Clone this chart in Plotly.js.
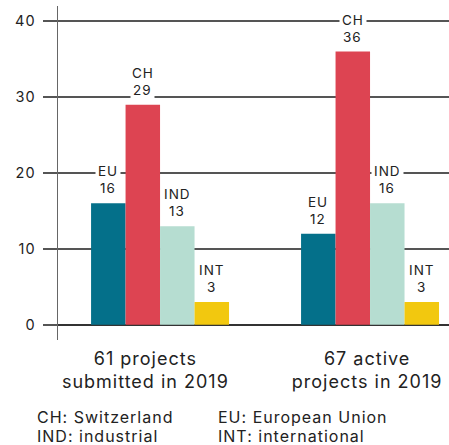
<!DOCTYPE html>
<html>
<head>
<meta charset="utf-8">
<script src="https://cdn.plot.ly/plotly-3.0.1.min.js"></script>
<style>
html,body{margin:0;padding:0;background:#fff;}
#chart{width:449px;height:445px;}
svg text{letter-spacing:1px;}
</style>
</head>
<body>
<div id="chart"></div>
<script>
const groups = ["61 projects<br>submitted in 2019", "67 active<br>projects in 2019"];
const seriesNames = ["EU", "CH", "IND", "INT"];
const euValues = [16, 12];
const chValues = [29, 36];
const indValues = [13, 16];
const intValues = [3, 3];
const yTicks = [0, 10, 20, 30, 40];
const legendLeft = ["CH: Switzerland", "IND: industrial"];
const legendRight = ["EU: European Union", "INT: international"];

const colors = ["#04708A", "#DD4452", "#B6DDD1", "#F2C80F"];
const labelShift = [-0.07, -0.014];
const allValues = [euValues, chValues, indValues, intValues];
const gx = groups.map((g, i) => i);
const bargap = 0.343;
const bw = (1 - bargap) / 4;
const font = "Inter, 'Open Sans', sans-serif";
const txt = "#222";

const traces = seriesNames.map((name, s) => ({
  type: "bar", name: name, x: gx, y: allValues[s],
  marker: {color: colors[s], line: {width: 0}}, hoverinfo: "none"
}));

const annotations = [];
seriesNames.forEach((name, s) => {
  allValues[s].forEach((v, g) => {
    const common = {
      x: g + (s - 1.5) * bw, y: v, xref: "x", yref: "y",
      showarrow: false, yanchor: "bottom", xanchor: "center",
      bgcolor: "#fff", borderpad: 2,
      font: {family: font, size: 13.5, color: txt}
    };
    annotations.push(Object.assign({}, common, {text: name, yshift: 21}));
    annotations.push(Object.assign({}, common, {text: String(v), yshift: 4}));
  });
});
const legCols = [[36, legendLeft], [217, legendRight]];
const legY = [416.5, 435.5];
legCols.forEach(([px, lines]) => {
  lines.forEach((line, i) => {
    annotations.push({
      xref: "paper", yref: "paper", x: (px - 58) / 391, y: (340 - legY[i]) / 334,
      xanchor: "left", yanchor: "middle", showarrow: false, align: "left",
      borderpad: 0,
      text: line, font: {family: font, size: 16, color: txt}
    });
  });
});

const layout = {
  width: 449, height: 445,
  margin: {l: 58, r: 0, t: 6, b: 105},
  paper_bgcolor: "#fff", plot_bgcolor: "#fff",
  barmode: "group", bargap: bargap, bargroupgap: 0,
  showlegend: false,
  font: {family: font, color: txt},
  xaxis: {
    range: [-0.486, 1.376], tickvals: gx.map((g, i) => g + labelShift[i]), ticktext: groups,
    showgrid: false, zeroline: false, showline: false, ticks: "",
    tickfont: {family: font, size: 18, color: txt}, ticklabelstandoff: 6
  },
  yaxis: {
    range: [-2, 42], tickvals: yTicks, ticktext: yTicks.map(String),
    showgrid: true, gridcolor: "#555", gridwidth: 1.5,
    zeroline: true, zerolinecolor: "#333", zerolinewidth: 1.5,
    showline: true, linecolor: "#666", linewidth: 1.5,
    ticks: "outside", ticklen: 14, tickcolor: "#555", tickwidth: 1.5,
    tickfont: {family: font, size: 14.5, color: txt}, ticklabelstandoff: 4
  },
  annotations: annotations
};
Plotly.newPlot("chart", traces, layout, {displayModeBar: false, staticPlot: true});
</script>
</body>
</html>
